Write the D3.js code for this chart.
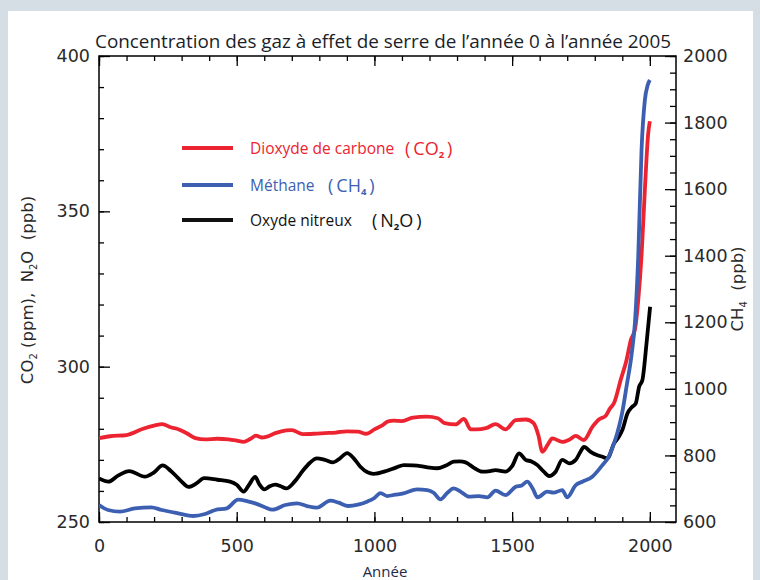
<!DOCTYPE html>
<html><head><meta charset="utf-8">
<script src="https://cdn.jsdelivr.net/npm/d3@7"></script>
<style>
html,body{margin:0;padding:0;background:#d5dde5;}
svg{display:block;}
</style></head>
<body>
<svg id="chart" width="760" height="580"></svg>
<script>
// ---- data ----
const co2Years = [0,40,100,160,200,230,260,290,320,350,385,430,470,500,525,550,570,590,610,640,680,700,740,780,820,860,900,940,970,1000,1030,1050,1070,1100,1140,1190,1230,1255,1295,1325,1350,1370,1405,1440,1476,1513,1550,1578,1595,1610,1630,1646,1682,1710,1731,1760,1792,1815,1840,1855,1870,1895,1915,1931,1946,1958,1970,1982,1994,2000];
const co2Values = [277,277.6,278,280,281,281.5,280.5,279.8,278.5,277,276.6,276.8,276.6,276.2,275.8,276.8,277.8,277.2,277.5,278.6,279.5,279.6,278.3,278.4,278.6,278.8,279.2,279.1,278.4,279.8,281.2,282.4,282.6,282.5,283.6,283.9,283.4,281.8,281.4,283.2,279.8,279.8,280.2,281.5,279.8,282.8,283,281.8,278,272.6,275,276.9,275.8,276.6,277.7,276.4,280.7,283,284.2,286.5,288.3,296,302,308.6,312,321.5,336,357,375,379];

const ch4Years = [0,33,76,130,190,228,288,342,385,422,464,505,540,567,600,630,676,719,755,790,840,870,905,940,973,1000,1022,1046,1075,1105,1155,1192,1215,1240,1265,1288,1315,1343,1379,1410,1440,1476,1513,1535,1555,1575,1592,1628,1650,1682,1700,1731,1755,1791,1828,1850,1870,1888,1900,1916,1934,1946,1958,1970,1982,1992,2000];
const ch4Values = [651,636,631,641,644,636,626,618,624,636,641,667,662,656,645,637,651,656,648,643,664,658,648,652,661,672,687,678,682,686,698,696,688,668,688,701,690,676,678,674,694,681,706,710,721,700,674,691,688,696,674,711,721,736,771,795,836,886,930,1010,1105,1200,1400,1720,1868,1912,1928];

const n2oYears = [0,34,70,110,167,200,231,260,280,300,325,355,382,430,476,500,525,545,567,583,600,620,640,660,680,710,740,765,791,820,850,875,901,925,949,975,997,1046,1080,1107,1140,1167,1200,1228,1260,1288,1310,1331,1360,1392,1420,1440,1476,1500,1525,1549,1570,1592,1615,1634,1658,1682,1707,1731,1748,1761,1785,1810,1828,1846,1870,1888,1900,1919,1935,1949,1961,1973,1988,2001];
const n2oValues = [264,263,265,266.4,264.6,266,268.2,266.5,264.8,263,261.3,262.5,264.1,263.6,263,262,259.8,262,264.5,262,260.5,261.5,262,261.5,260.8,263,266.5,269,270.5,270,269.2,270.5,272.2,270.5,267.8,266,265.5,266.5,267.6,268.3,268.2,268,267.5,267.3,268.2,269.4,269.5,269.2,267.5,266.2,266.4,266.7,266.2,268,272.1,270,269.5,268.3,266.2,264.8,266.2,270,268.9,270,272.6,274.2,272.6,271.5,271,270.5,275.3,277.5,279.6,285,287,288.2,293.5,295.7,307.5,319.3];

const xTickLabels = [0,500,1000,1500,2000];
const leftTickLabels = [250,300,350,400];
const rightTickLabels = [600,800,1000,1200,1400,1600,1800,2000];

const titleText = "Concentration des gaz à effet de serre de l’année 0 à l’année 2005";
const xTitle = "Année";
const legendNames = ["Dioxyde de carbone","Méthane","Oxyde nitreux"];

// ---- drawing ----
const svg = d3.select("#chart");
const C = {red:"#ec2330", blue:"#3c5fb1", black:"#000"};

svg.append("rect").attr("x",8).attr("y",11).attr("width",745).attr("height",580).attr("fill","#fff");

const L=99, R=676, T=56, B=522;
const x = d3.scaleLinear().domain([0,2095]).range([L,R]);
const yL = d3.scaleLinear().domain([250,400]).range([B,T]);
const yR = d3.scaleLinear().domain([600,2000]).range([B,T]);

const tickFont = "'DejaVu Sans', sans-serif";

function styleAxis(g){
  g.select(".domain").remove();
  g.selectAll("line").attr("stroke","#000").attr("stroke-width",1.3);
  g.selectAll("text").attr("font-family",tickFont).attr("font-size",17.5).attr("fill","#2a2a2a");
}

// minor ticks
const minorX = d3.range(0,2001,100);
svg.append("g").attr("transform",`translate(0,${B})`)
  .call(d3.axisBottom(x).tickValues(minorX).tickSize(-5).tickFormat(""))
  .call(styleAxis);
svg.append("g").attr("transform",`translate(0,${T})`)
  .call(d3.axisTop(x).tickValues(minorX).tickSize(-5).tickFormat(""))
  .call(styleAxis);
svg.append("g").attr("transform",`translate(${L},0)`)
  .call(d3.axisLeft(yL).tickValues(d3.range(250,401,10)).tickSize(-5).tickFormat(""))
  .call(styleAxis);
svg.append("g").attr("transform",`translate(${R},0)`)
  .call(d3.axisRight(yR).tickValues(d3.range(600,2001,50)).tickSize(-6).tickFormat(""))
  .call(styleAxis);

// major ticks with labels
svg.append("g").attr("transform",`translate(0,${B})`)
  .call(d3.axisBottom(x).tickValues(xTickLabels).tickSize(-10).tickPadding(18).tickFormat(d3.format("d")))
  .call(styleAxis);
svg.append("g").attr("transform",`translate(0,${T})`)
  .call(d3.axisTop(x).tickValues(xTickLabels).tickSize(-10).tickFormat(""))
  .call(styleAxis);
svg.append("g").attr("transform",`translate(${L},0)`)
  .call(d3.axisLeft(yL).tickValues(leftTickLabels).tickSize(-11).tickPadding(9).tickFormat(d3.format("d")))
  .call(styleAxis);
svg.append("g").attr("transform",`translate(${R},0)`)
  .call(d3.axisRight(yR).tickValues(rightTickLabels).tickSize(-11).tickPadding(7).tickFormat(d3.format("d")))
  .call(styleAxis);

// frame
svg.append("rect").attr("x",L).attr("y",T).attr("width",R-L).attr("height",B-T)
  .attr("fill","none").attr("stroke","#000").attr("stroke-width",1.5);

// series
svg.append("clipPath").attr("id","clip").append("rect")
  .attr("x",L).attr("y",T).attr("width",R-L).attr("height",B-T);

function drawLine(years, vals, yScale, color){
  const data = years.map((yr,i)=>[yr, vals[i]]);
  svg.append("path").datum(data)
    .attr("clip-path","url(#clip)")
    .attr("fill","none").attr("stroke",color).attr("stroke-width",3.8)
    .attr("stroke-linejoin","round").attr("stroke-linecap","butt")
    .attr("d", d3.line().x(d=>x(d[0])).y(d=>yScale(d[1])).curve(d3.curveMonotoneX));
}
drawLine(co2Years, co2Values, yL, C.red);
drawLine(n2oYears, n2oValues, yL, C.black);
drawLine(ch4Years, ch4Values, yR, C.blue);

// title
svg.append("text").attr("x",383).attr("y",48).attr("text-anchor","middle")
  .attr("font-family","'Open Sans', sans-serif").attr("font-size",18).attr("fill","#1b1f2a")
  .attr("textLength",576).attr("lengthAdjust","spacingAndGlyphs")
  .text(titleText);

// x title
svg.append("text").attr("x",385).attr("y",577).attr("text-anchor","middle")
  .attr("font-family","'Open Sans', sans-serif").attr("font-size",15).attr("fill","#1c2b4a")
  .text(xTitle);

// left y title
const lt = svg.append("text").attr("transform","translate(33,290) rotate(-90)")
  .attr("text-anchor","middle").attr("font-family",tickFont).attr("font-size",16.5).attr("fill","#2a2a2a");
lt.append("tspan").text("CO");
lt.append("tspan").attr("font-size",10).attr("dy",4).text("2");
lt.append("tspan").attr("dy",-4).text("\u00a0(ppm),\u00a0\u00a0N");
lt.append("tspan").attr("font-size",10).attr("dy",4).text("2");
lt.append("tspan").attr("dy",-4).text("O\u00a0\u00a0(ppb)");

// right y title
const rt = svg.append("text").attr("transform","translate(743,289) rotate(-90)")
  .attr("text-anchor","middle").attr("font-family",tickFont).attr("font-size",16.5).attr("fill","#2a2a2a");
rt.append("tspan").text("CH");
rt.append("tspan").attr("font-size",10).attr("dy",4).text("4");
rt.append("tspan").attr("dy",-4).text("\u00a0\u00a0(ppb)");

// legend
const legY = [148,185,220];
const legColors = [C.red, C.blue, "#111"];
const formulaParts = [["CO","2",""],["CH","4",""],["N","2","O"]];
const formulaX = [405,328,372];
legendNames.forEach((name,i)=>{
  svg.append("line").attr("x1",182).attr("x2",233).attr("y1",legY[i]).attr("y2",legY[i])
    .attr("stroke",legColors[i]).attr("stroke-width",3.8);
  svg.append("text").attr("x",250).attr("y",legY[i]+5.5)
    .attr("font-family","'Open Sans', sans-serif").attr("font-size",15.5).attr("fill",legColors[i])
    .text(name);
  const f = svg.append("text").attr("x",formulaX[i]).attr("y",legY[i]+6.5)
    .attr("font-family","'Open Sans', sans-serif").attr("font-size",18).attr("fill",legColors[i]);
  f.append("tspan").text("(\u2009"+formulaParts[i][0]);
  f.append("tspan").attr("font-size",9.5).attr("font-weight","bold").attr("dy",3).text(formulaParts[i][1]);
  f.append("tspan").attr("dy",-3).text(formulaParts[i][2]+"\u2009)");
});
</script>
</body></html>
